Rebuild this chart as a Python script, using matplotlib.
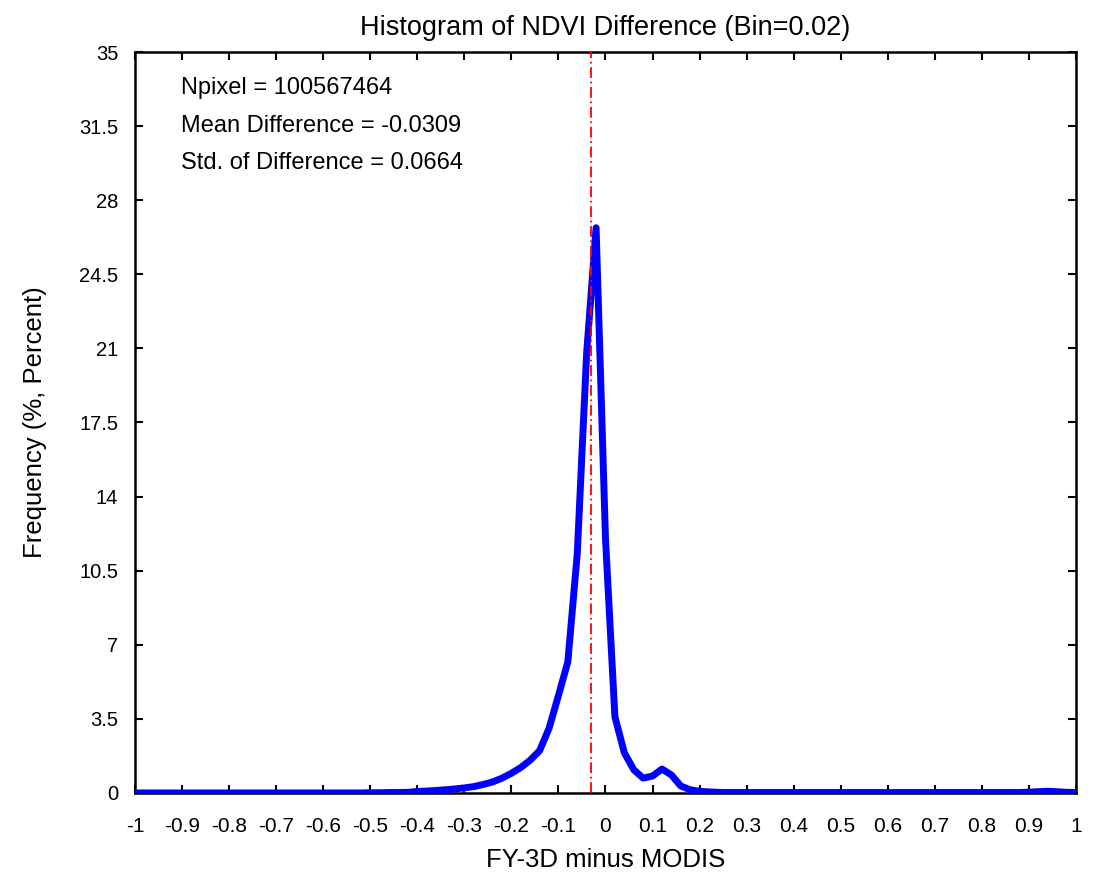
import matplotlib
matplotlib.use("Agg")
import matplotlib.pyplot as plt
import numpy as np

# bin positions (Bin = 0.02)
bin_x = np.round(np.arange(-1.0, 1.0001, 0.02), 2)

# frequency (%), -1 .. 1
freq_left_tail = [0.0] * 25 + [0.01, 0.01, 0.02, 0.02, 0.03]  # -1.00 .. -0.42
freq_core = [0.07, 0.09, 0.12, 0.15, 0.19, 0.24, 0.30, 0.40, 0.52, 0.70,
             0.93, 1.20, 1.55, 2.00, 3.05, 4.60, 6.20, 11.3, 20.8, 26.7,
             12.0, 3.60, 1.90, 1.10, 0.70, 0.80, 1.13, 0.85, 0.33, 0.15,
             0.08, 0.05, 0.03]  # -0.40 .. 0.24
freq_right_tail = [0.02] * 32 + [0.04, 0.06, 0.08, 0.06, 0.03, 0.02]  # 0.26 .. 1.00
freq = np.array(freq_left_tail + freq_core + freq_right_tail)

mean_diff = -0.0309
title = "Histogram of NDVI Difference (Bin=0.02)"
stats_lines = ["Npixel = 100567464", "Mean Difference = -0.0309", "Std. of Difference = 0.0664"]
xticks = np.round(np.arange(-1.0, 1.0001, 0.1), 1) + 0.0
yticks = np.round(np.arange(0, 35.01, 3.5), 1) + 0.0
xtick_labels = ["-1", "-0.9", "-0.8", "-0.7", "-0.6", "-0.5", "-0.4", "-0.3", "-0.2", "-0.1",
                "0", "0.1", "0.2", "0.3", "0.4", "0.5", "0.6", "0.7", "0.8", "0.9", "1"]
ytick_labels = ["0", "3.5", "7", "10.5", "14", "17.5", "21", "24.5", "28", "31.5", "35"]

FONT = ["Liberation Sans", "DejaVu Sans"]
plt.rcParams["font.family"] = FONT

fig = plt.figure(figsize=(11.01, 8.85), dpi=100)
ax = fig.add_axes([0.1226, 0.1040, 0.8547, 0.8372])

ax.plot(bin_x, freq, color="#0000ff", lw=5, zorder=3)
ax.axvline(mean_diff, color="red", lw=1.3, linestyle=(0, (6, 2, 1, 2)), zorder=4)

ax.set_xlim(-1, 1)
ax.set_ylim(0, 35)
ax.set_xticks(xticks)
ax.set_xticklabels(xtick_labels, fontsize=15)
ax.set_yticks(yticks)
ax.set_yticklabels(ytick_labels, fontsize=14.5)
ax.tick_params(direction="in", length=6, width=1.5, top=True, right=True)
ax.tick_params(axis="x", pad=17)
ax.tick_params(axis="y", pad=12)
for s in ax.spines.values():
    s.set_linewidth(1.8)

ax.set_title(title, fontsize=19.5, pad=12)
ax.set_xlabel("FY-3D minus MODIS", fontsize=18.5)
ax.xaxis.set_label_coords(0.5, -0.074)
ax.set_ylabel("Frequency (%, Percent)", fontsize=18.5)
ax.yaxis.set_label_coords(-0.093, 0.5)

for i, line in enumerate(stats_lines):
    ax.text(0.049, 0.951 - i * 0.0505, line, transform=ax.transAxes,
            fontsize=17, va="center", ha="left")

fig.savefig("out.png", dpi=100)
